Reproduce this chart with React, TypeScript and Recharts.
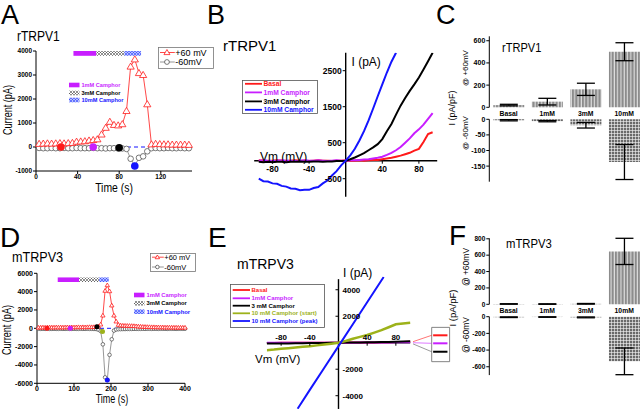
import React from 'react';
import {
  ComposedChart, LineChart, BarChart, Line, Bar, Scatter, Cell, XAxis, YAxis,
  ReferenceLine, ReferenceArea, ReferenceDot, ErrorBar,
} from 'recharts';

const FONT = '"Liberation Sans", Arial, Helvetica, sans-serif';

const RED = '#ff1a1a';
const MAGENTA = '#c81eff';
const BLUE = '#1414ff';
const OLIVE = '#9db21a';
const GREY = '#7c7c7c';

// ---------- A: rTRPV1 current vs time ----------
const timeA = [3, 7, 11, 15, 19, 23, 27, 31, 35, 39, 43, 47, 51, 55, 59, 63, 67, 71, 75, 79, 83, 87, 91, 95, 99, 103, 107, 111, 115, 119, 123, 127, 131, 135, 139, 143, 147];
const posA = [130, 140, 150, 140, 150, 160, 150, 160, 170, 220, 230, 240, 270, 290, 320, 520, 800, 1050, 920, 900, 950, 1500, 3350, 3650, 3080, 3000, 1780, 110, 130, 120, 110, 110, 100, 100, 100, 100, 90];
const negA = [-40, -50, -50, -40, -50, -50, -40, -50, -50, -40, -50, -50, -50, -40, -50, -50, -60, -50, -50, -60, -60, -80, -490, -790, -450, -390, -180, -50, -40, -50, -50, -40, -50, -50, -40, -50, -50];
const markTimeA = [24, 55, 80, 95];
const markCurA = [0, 0, -30, -790];
const drugFromA = [36, 58, 85];
const drugToA = [58, 85, 101];

// ---------- D: mTRPV3 current vs time ----------
const timeD = [4, 10, 16, 22, 28, 34, 40, 46, 52, 58, 64, 70, 76, 82, 88, 94, 100, 106, 112, 118, 124, 130, 136, 142, 148, 154, 160, 166, 172, 178, 184, 190, 196, 202, 208, 214, 220, 226, 232, 238, 244, 250, 256, 262, 268, 274, 280, 286, 292, 298, 304, 310, 316, 322, 328, 334, 340, 346, 352, 358, 364, 370, 376, 382, 388, 394, 400];
const posD = [80, 90, 100, 90, 100, 110, 100, 100, 110, 100, 110, 100, 110, 120, 110, 120, 110, 120, 130, 120, 130, 120, 130, 140, 130, 140, 150, 200, 420, 1400, 4100, 4700, 4050, 2500, 1400, 750, 380, 320, 300, 290, 280, 270, 260, 250, 230, 210, 190, 170, 160, 150, 140, 130, 130, 120, 120, 110, 110, 100, 100, 100, 90, 90, 90, 80, 80, 80, 80];
const negD = [-50, -60, -50, -60, -50, -60, -60, -50, -60, -60, -50, -60, -60, -50, -60, -60, -50, -60, -60, -50, -60, -60, -50, -60, -60, -70, -80, -150, -300, -1750, -5350, -5650, -2900, -1200, -250, -130, -100, -90, -80, -80, -70, -70, -70, -60, -60, -60, -60, -50, -60, -50, -50, -60, -50, -50, -60, -50, -50, -50, -60, -50, -50, -50, -60, -50, -50, -50, -50];
const markTimeD = [27, 90, 162, 177, 190];
const markCurD = [0, 0, 180, -350, -5650];
const drugFromD = [56, 114, 168];
const drugToD = [114, 168, 194];

// ---------- B: rTRPV1 I-V ----------
const vB = [-95, -90, -85, -80, -75, -70, -65, -60, -55, -50, -45, -40, -35, -30, -25, -20, -15, -10, -5, 0, 5, 10, 15, 20, 25, 30, 35, 40, 45, 50, 55, 60, 65, 70, 75, 80, 85, 90, 95];
const basalB = [10, 0, -10, 0, 10, 0, -10, 0, 10, 0, 0, -10, 0, 10, 0, 0, -10, 0, 0, 10, 0, 0, 10, 0, 10, 20, 20, 40, 60, 80, 110, 140, 180, 220, 280, 330, 520, 740, 790];
const camphor1B = [0, 10, 0, -10, 0, 10, 0, 0, -10, 0, 10, 0, 0, 10, 0, -10, 0, 10, 0, 0, 10, 10, 20, 30, 40, 60, 80, 110, 160, 220, 290, 380, 500, 620, 760, 870, 1000, 1160, 1320];
const camphor3B = [-30, -40, -30, -40, -30, -30, -40, -30, -30, -20, -30, -30, -20, -20, -30, -20, -20, -10, -10, 0, 40, 90, 150, 210, 290, 370, 460, 600, 820, 1020, 1280, 1530, 1740, 1940, 2120, 2310, 2530, 2760, 3000];
const vB10 = [-95, -90, -85, -80, -75, -70, -65, -60, -55, -50, -45, -40, -35, -30, -25, -20, -15, -10, -5, 0, 5, 10, 15, 20, 25, 30, 35, 40, 45, 50, 55];
const camphor10B = [-500, -570, -580, -630, -640, -700, -720, -770, -780, -820, -810, -810, -760, -730, -630, -550, -410, -290, -130, 0, 150, 330, 560, 820, 1120, 1450, 1790, 2120, 2450, 2750, 3000];

// ---------- E: mTRPV3 I-V ----------
const vE = [-100, -90, -80, -70, -60, -50, -40, -30, -20, -10, 0, 10, 20, 30, 40, 50, 60, 70, 80, 90, 100];
const basalE = [-20, -20, -10, -10, -10, -10, 0, 0, 0, 0, 0, 0, 10, 10, 20, 20, 30, 40, 50, 60, 70];
const camphor1E = [-10, -10, -10, 0, 0, 0, 0, 0, 0, 0, 0, 0, 0, 10, 10, 10, 20, 20, 30, 30, 40];
const camphor3E = [-60, -60, -50, -50, -40, -40, -30, -30, -20, -10, 0, 10, 10, 20, 30, 40, 50, 60, 80, 90, 110];
const startE = [-560, -520, -460, -410, -360, -310, -260, -200, -140, -70, 0, 130, 300, 440, 580, 760, 950, 1170, 1390, 1460, 1510];
const vPeakE = [-57, -40, -20, 0, 20, 40, 63];
const peakE = [-4980, -3560, -1910, -260, 1390, 3050, 4960];

// ---------- C / F: current density bars ----------
const groups = ['Basal', '1mM', '3mM', '10mM'];
const cPosMean = [20, 51, 162, 501];
const cPosErr = [7, 30, 55, 81];
const cNegMean = [-3, -6, -19, -137];
const cNegErr = [2, 2, 9, 56];
const fPosMean = [4, 3, 6, 646];
const fPosErr = [3, 3, 4, 160];
const fNegMean = [-6, -4, -8, -535];
const fNegErr = [4, 3, 5, 160];

const asRows = (t: number[], a: number[], b: number[]) => t.map((x, i) => ({ t: x, pos: a[i], neg: b[i] }));
const asPts = (v: number[], c: number[]) => v.map((x, i) => ({ v: x, i: c[i] }));
const asMarks = (t: number[], c: number[]) => t.map((x, i) => ({ t: x, v: c[i] }));
const asBars = (m: number[], e: number[]) => groups.map((g, i) => ({ name: g, mean: m[i], err: e[i] }));

const DRUG_FILLS = [MAGENTA, 'url(#pat-cross)', 'url(#pat-crossblue)'];

// absolutely placed text; (x, y) is the left-middle point, or the centre when rotated / anchor="middle"
const Txt = ({ x, y, size, children, anchor = 'start', color = '#000', bold = false, rotate = false, sx = 1 }: any) => {
  const tx = anchor === 'start' ? '0' : '-50%';
  const origin = rotate || anchor !== 'start' ? 'center center' : 'left center';
  const transform = rotate
    ? `translate(-50%,-50%) rotate(-90deg) scaleX(${sx})`
    : `translate(${tx},-50%) scaleX(${sx})`;
  return (
    <div style={{
      position: 'absolute', left: x, top: y, fontSize: size, lineHeight: 0.8, whiteSpace: 'nowrap',
      color, fontWeight: bold ? 'bold' : 'normal', transform, transformOrigin: origin,
    }}>{children}</div>
  );
};

const triangle = (r: number, color: string) => (p: any) => (
  <path key={`tri-${p.index}`}
    d={`M${p.cx},${p.cy - r}L${p.cx + r},${p.cy + r * 0.7}L${p.cx - r},${p.cy + r * 0.7}Z`}
    fill="#fff" stroke={color} strokeWidth={0.8} />
);
const ring = (r: number, color: string) => (p: any) => (
  <circle key={`ring-${p.index}`} cx={p.cx} cy={p.cy} r={r} fill="#fff" stroke={color} strokeWidth={0.8} />
);

// tick drawn at a data point: vertical tick with label under / over the axis
const xTick = (label: string, dy: number, size: number) => (p: any) => (
  <g>
    <line x1={p.cx} y1={p.cy} x2={p.cx} y2={p.cy + 3} stroke="#000" strokeWidth={1} />
    <text x={p.cx} y={p.cy + dy} textAnchor="middle" fontSize={size} fontWeight="bold">{label}</text>
  </g>
);
const yTick = (label: string, right: boolean, size: number) => (p: any) => (
  <g>
    <line x1={p.cx - 3} y1={p.cy} x2={p.cx} y2={p.cy} stroke="#000" strokeWidth={1} />
    <text x={right ? p.cx + 4 : p.cx - 4} y={p.cy + size * 0.36} textAnchor={right ? 'start' : 'end'}
      fontSize={size} fontWeight="bold">{label}</text>
  </g>
);

const TimeCourse = (props: any) => {
  const { left, top, width, height, margin, rows, marks, markColors, markR, drugFrom, drugTo, band,
    xDomain, xTicks, yDomain, yTicks, tickFont, triR, ringR } = props;
  const tick = { fontSize: tickFont, fontWeight: 'bold', fill: '#000' };
  return (
    <div style={{ position: 'absolute', left, top }}>
      <ComposedChart width={width} height={height} data={rows} margin={margin}>
        <XAxis type="number" dataKey="t" domain={xDomain} ticks={xTicks} interval={0} height={25}
          tick={tick} tickSize={3} tickMargin={0} stroke="#000" />
        <YAxis type="number" domain={yDomain} ticks={yTicks} interval={0} width={34}
          tick={tick} tickSize={3} tickMargin={1} stroke="#000" />
        {drugFrom.map((s: number, i: number) => (
          <ReferenceArea key={`drug-${i}`} x1={s} x2={drugTo[i]} y1={band[0]} y2={band[1]}
            fill={DRUG_FILLS[i]} fillOpacity={1} stroke="none" />
        ))}
        <ReferenceLine y={0} stroke={BLUE} strokeDasharray="4 3" strokeWidth={1} />
        <Line dataKey="neg" stroke={GREY} strokeWidth={0.8} dot={ring(ringR, '#555')} isAnimationActive={false} />
        <Line dataKey="pos" stroke={RED} strokeWidth={0.8} dot={triangle(triR, RED)} isAnimationActive={false} />
        <Scatter data={marks} dataKey="v" isAnimationActive={false}
          shape={(p: any) => <circle cx={p.cx} cy={p.cy} r={markR} fill={p.fill} />}>
          {marks.map((_: any, i: number) => <Cell key={`m-${i}`} fill={markColors[i]} />)}
        </Scatter>
      </ComposedChart>
    </div>
  );
};

const DensityBars = (props: any) => {
  const { top, posRows, negRows, posDomain, posTicks, negDomain, negTicks, posMargin, negMargin,
    posHeight, negHeight, negTop, tickFont } = props;
  const tick = { fontSize: tickFont, fontWeight: 'bold', fill: '#000' };
  return (
    <>
      <div style={{ position: 'absolute', left: 440, top }}>
        <BarChart width={210} height={posHeight} data={posRows} margin={posMargin}>
          <XAxis dataKey="name" axisLine={false} tickLine={false} tickSize={0} tickMargin={4} height={10}
            interval={0} tick={{ fontSize: 6.8, fontWeight: 'bold', fill: '#000' }} />
          <YAxis type="number" domain={posDomain} ticks={posTicks} interval={0} width={22}
            tick={tick} tickSize={3} tickMargin={1} stroke="#000" />
          <Bar dataKey="mean" barSize={31} fill="url(#pat-vstripe)" isAnimationActive={false}>
            <ErrorBar dataKey="err" width={9} stroke="#000" strokeWidth={1.3} />
          </Bar>
        </BarChart>
      </div>
      <div style={{ position: 'absolute', left: 440, top: negTop }}>
        <BarChart width={210} height={negHeight} data={negRows} margin={negMargin}>
          <XAxis dataKey="name" hide />
          <YAxis type="number" domain={negDomain} ticks={negTicks} interval={0} width={22}
            tick={tick} tickSize={3} tickMargin={1} stroke="#000" />
          <Bar dataKey="mean" barSize={31} fill="url(#pat-grid)" isAnimationActive={false}>
            <ErrorBar dataKey="err" width={9} stroke="#000" strokeWidth={1.3} />
          </Bar>
        </BarChart>
      </div>
    </>
  );
};

const Patterns = () => (
  <svg width={0} height={0} style={{ position: 'absolute' }}>
    <defs>
      <pattern id="pat-cross" width={3} height={3} patternUnits="userSpaceOnUse">
        <rect width={3} height={3} fill="#fff" />
        <path d="M0,0L3,3M3,0L0,3" stroke="#444" strokeWidth={0.6} />
      </pattern>
      <pattern id="pat-crossblue" width={3} height={3} patternUnits="userSpaceOnUse">
        <rect width={3} height={3} fill="#b9c3ff" />
        <path d="M0,0L3,3M3,0L0,3" stroke="#2a3cff" strokeWidth={0.6} />
      </pattern>
      <pattern id="pat-vstripe" width={3.3} height={4} patternUnits="userSpaceOnUse">
        <rect width={3.3} height={4} fill="#8c8c8c" />
        <rect x={2.2} width={1} height={4} fill="#e8e8e8" />
      </pattern>
      <pattern id="pat-grid" width={3} height={3} patternUnits="userSpaceOnUse">
        <rect width={3} height={3} fill="#6a6a6a" />
        <path d="M0,0.4H3M0.4,0V3" stroke="#f2f2f2" strokeWidth={0.7} />
      </pattern>
    </defs>
  </svg>
);

const DrugLegend = ({ left, top, rows, font }: any) => (
  <svg width={60} height={28} style={{ position: 'absolute', left, top }}>
    {['1mM Camphor', '3mM Camphor', '10mM Camphor'].map((s, i) => (
      <g key={s}>
        <rect x={1} y={rows[i] - 2.3} width={10.5} height={4.6} fill={DRUG_FILLS[i]} />
        <text x={13.5} y={rows[i] + 2} fontSize={font} fontWeight="bold"
          fill={[MAGENTA, '#000', BLUE][i]}>{s}</text>
      </g>
    ))}
  </svg>
);

const VoltLegend = ({ left, top, w, h, rows, font, triR, ringR }: any) => (
  <svg width={w} height={h} style={{ position: 'absolute', left, top }}>
    <rect x={0.5} y={0.5} width={w - 1} height={h - 1} fill="#fff" stroke="#777" strokeWidth={0.8} />
    <line x1={2} y1={rows[0]} x2={w * 0.3} y2={rows[0]} stroke={RED} strokeWidth={0.8} />
    {triangle(triR, RED)({ cx: w * 0.16, cy: rows[0], index: 0 })}
    <text x={w * 0.31} y={rows[0] + font * 0.36} fontSize={font}>+60 mV</text>
    <line x1={2} y1={rows[1]} x2={w * 0.3} y2={rows[1]} stroke={GREY} strokeWidth={0.8} />
    {ring(ringR, '#555')({ cx: w * 0.16, cy: rows[1], index: 1 })}
    <text x={w * 0.31} y={rows[1] + font * 0.36} fontSize={font}>-60mV</text>
  </svg>
);

const LineLegend = ({ left, top, w, h, rows, items, colors, font, x1, x2 }: any) => (
  <svg width={w} height={h} style={{ position: 'absolute', left, top }}>
    <rect x={0.5} y={0.5} width={w - 1} height={h - 1} fill="#fff" stroke="#555" strokeWidth={0.8} />
    {items.map((s: string, i: number) => (
      <g key={s}>
        <line x1={x1} y1={rows[i]} x2={x2} y2={rows[i]} stroke={colors[i]} strokeWidth={1.8} />
        <text x={x2 + 1.5} y={rows[i] + font * 0.36} fontSize={font} fontWeight="bold" fill={colors[i]}>{s}</text>
      </g>
    ))}
  </svg>
);

export default function App() {
  const rowsA = asRows(timeA, posA, negA);
  const rowsD = asRows(timeD, posD, negD);
  return (
    <div style={{
      position: 'absolute', left: 0, top: 0, width: 640, height: 411, overflow: 'hidden',
      background: '#fff', fontFamily: FONT,
    }}>
      <Patterns />

      {/* A */}
      <TimeCourse left={0} top={0} width={215} height={200}
        margin={{ top: 51, right: 23, bottom: 4, left: 2 }}
        rows={rowsA} marks={asMarks(markTimeA, markCurA)} markColors={[RED, MAGENTA, '#000', BLUE]} markR={3.8}
        drugFrom={drugFromA} drugTo={drugToA} band={[3800, 4000]}
        xDomain={[0, 150]} xTicks={[0, 40, 80, 120]} yDomain={[-1000, 4000]}
        yTicks={[-1000, 0, 1000, 2000, 3000, 4000]} tickFont={6.5} triR={3.6} ringR={2.8} />
      <DrugLegend left={68} top={80} rows={[5, 13, 20]} font={5.6} />
      <VoltLegend left={158} top={47} w={56} h={22} rows={[5.5, 15]} font={9} triR={3} ringR={2.4} />

      {/* D */}
      <TimeCourse left={0} top={205} width={215} height={206}
        margin={{ top: 68.3, right: 30, bottom: 2.7, left: 3 }}
        rows={rowsD} marks={asMarks(markTimeD, markCurD)} markColors={[RED, MAGENTA, '#000', OLIVE, BLUE]} markR={2.5}
        drugFrom={drugFromD} drugTo={drugToD} band={[5050, 5550]}
        xDomain={[0, 400]} xTicks={[0, 100, 200, 300, 400]} yDomain={[-6000, 6000]}
        yTicks={[-6000, -4000, -2000, 0, 2000, 4000, 6000]} tickFont={7} triR={2.2} ringR={1.8} />
      <DrugLegend left={133} top={290} rows={[5, 13.3, 21.7]} font={5.8} />
      <VoltLegend left={150} top={253} w={46} h={19} rows={[4.2, 14]} font={7.5} triR={2.2} ringR={1.8} />

      {/* B */}
      <div style={{ position: 'absolute', left: 210, top: 0 }}>
        <LineChart width={230} height={205} margin={{ top: 52.7, right: 2.8, bottom: 8.3, left: 44.2 }}>
          <XAxis type="number" dataKey="v" domain={[-100, 100]} hide allowDataOverflow />
          <YAxis type="number" domain={[-1000, 3000]} hide allowDataOverflow />
          <ReferenceLine segment={[{ x: -100, y: 0 }, { x: 100, y: 0 }]} stroke="#000" strokeWidth={1.4} />
          <ReferenceLine segment={[{ x: 0, y: -1000 }, { x: 0, y: 3000 }]} stroke="#000" strokeWidth={1.4} />
          {[-80, -40, 40, 80].map((v) => (
            <ReferenceDot key={`bx${v}`} x={v} y={0} r={1} shape={xTick(String(v), 11, 8.5)} />
          ))}
          {[-500, 500, 1500, 2500].map((v) => (
            <ReferenceDot key={`by${v}`} x={0} y={v} r={1} shape={yTick(String(v), false, 8.5)} />
          ))}
          <Line data={asPts(vB, basalB)} dataKey="i" stroke={RED} strokeWidth={2} dot={false} isAnimationActive={false} />
          <Line data={asPts(vB, camphor1B)} dataKey="i" stroke={MAGENTA} strokeWidth={2} dot={false} isAnimationActive={false} />
          <Line data={asPts(vB, camphor3B)} dataKey="i" stroke="#000" strokeWidth={2} dot={false} isAnimationActive={false} />
          <Line data={asPts(vB10, camphor10B)} dataKey="i" stroke={BLUE} strokeWidth={2} dot={false} isAnimationActive={false} />
        </LineChart>
      </div>
      <LineLegend left={242} top={80} w={76} h={34} rows={[3.8, 12.4, 21.4, 29.8]}
        items={['Basal', '1mM Camphor', '3mM Camphor', '10mM Camphor']}
        colors={[RED, MAGENTA, '#000', BLUE]} font={6.7} x1={3} x2={20} />

      {/* E */}
      <div style={{ position: 'absolute', left: 210, top: 205 }}>
        <LineChart width={250} height={206} margin={{ top: 71.5, right: 6.8, bottom: 2.05, left: 56.8 }}>
          <XAxis type="number" dataKey="v" domain={[-100, 160]} hide allowDataOverflow />
          <YAxis type="number" domain={[-5000, 5000]} hide allowDataOverflow />
          <ReferenceLine segment={[{ x: -100, y: 0 }, { x: 100, y: 0 }]} stroke="#000" strokeWidth={1.4} />
          <ReferenceLine segment={[{ x: 0, y: -5000 }, { x: 0, y: 4800 }]} stroke="#000" strokeWidth={1.4} />
          {[-80, -40, 40, 80].map((v) => (
            <ReferenceDot key={`ex${v}`} x={v} y={0} r={1} shape={xTick(String(v), -3, 8)} />
          ))}
          {[-4000, -2000, 2000, 4000].map((v) => (
            <ReferenceDot key={`ey${v}`} x={0} y={v} r={1} shape={yTick(String(v), true, 8)} />
          ))}
          {/* zoom-in box for the end of the basal/1mM/3mM traces */}
          <ReferenceLine segment={[{ x: 104, y: 80 }, { x: 130, y: 560 }]} stroke={RED} strokeWidth={0.6} />
          <ReferenceLine segment={[{ x: 104, y: 0 }, { x: 130, y: -45 }]} stroke={MAGENTA} strokeWidth={0.6} />
          <ReferenceLine segment={[{ x: 104, y: -90 }, { x: 130, y: -680 }]} stroke="#555" strokeWidth={0.6} />
          <ReferenceArea x1={130} x2={155} y1={-1430} y2={1160} fill="#fff" fillOpacity={1} stroke="#666" strokeWidth={0.8} />
          <ReferenceLine segment={[{ x: 132, y: 560 }, { x: 152, y: 560 }]} stroke={RED} strokeWidth={2} />
          <ReferenceLine segment={[{ x: 132, y: -45 }, { x: 152, y: -45 }]} stroke={MAGENTA} strokeWidth={2} />
          <ReferenceLine segment={[{ x: 132, y: -680 }, { x: 152, y: -680 }]} stroke="#000" strokeWidth={2} />
          <Line data={asPts(vE, basalE)} dataKey="i" stroke={RED} strokeWidth={2} dot={false} isAnimationActive={false} />
          <Line data={asPts(vE, camphor1E)} dataKey="i" stroke={MAGENTA} strokeWidth={2} dot={false} isAnimationActive={false} />
          <Line data={asPts(vE, camphor3E)} dataKey="i" stroke="#000" strokeWidth={2} dot={false} isAnimationActive={false} />
          <Line data={asPts(vE, startE)} dataKey="i" stroke={OLIVE} strokeWidth={2.5} dot={false} isAnimationActive={false} />
          <Line data={asPts(vPeakE, peakE)} dataKey="i" stroke={BLUE} strokeWidth={2} dot={false} isAnimationActive={false} />
        </LineChart>
      </div>
      <LineLegend left={230} top={284} w={95} h={44} rows={[6, 14.3, 21.7, 29.3, 37]}
        items={['Basal', '1mM Camphor', '3 mM Camphor', '10 mM Camphor (start)', '10 mM Camphor (peak)']}
        colors={[RED, MAGENTA, '#000', OLIVE, BLUE]} font={6} x1={2.7} x2={20} />

      {/* C */}
      <DensityBars top={0} negTop={112} posHeight={120} negHeight={75}
        posRows={asBars(cPosMean, cPosErr)} negRows={asBars(cNegMean, cNegErr)}
        posDomain={[0, 640]} posTicks={[0, 200, 400, 600]} negDomain={[-200, 0]} negTicks={[-150, -100, -50, 0]}
        posMargin={{ top: 36.3, right: 6.5, bottom: 2.7, left: 27.3 }}
        negMargin={{ top: 7.3, right: 6.5, bottom: 5.3, left: 27.3 }} tickFont={7} />

      {/* F */}
      <DensityBars top={205} negTop={310} posHeight={115} negHeight={70}
        posRows={asBars(fPosMean, fPosErr)} negRows={asBars(fNegMean, fNegErr)}
        posDomain={[0, 800]} posTicks={[0, 200, 400, 600, 800]} negDomain={[-700, 0]} negTicks={[-600, -400, -200, 0]}
        posMargin={{ top: 33.3, right: 6.5, bottom: 5.7, left: 27.3 }}
        negMargin={{ top: 6.7, right: 6.5, bottom: 4.9, left: 27.3 }} tickFont={6.5} />

      {/* panel letters and titles */}
      <Txt x={1} y={15.5} size={27}>A</Txt>
      <Txt x={207} y={15.5} size={27}>B</Txt>
      <Txt x={436} y={15.5} size={27}>C</Txt>
      <Txt x={0} y={238} size={28}>D</Txt>
      <Txt x={208} y={238} size={28}>E</Txt>
      <Txt x={449} y={236} size={28}>F</Txt>

      <Txt x={17} y={37} size={14} sx={0.86}>rTRPV1</Txt>
      <Txt x={223} y={46} size={15}>rTRPV1</Txt>
      <Txt x={502} y={47.5} size={13} sx={0.85}>rTRPV1</Txt>
      <Txt x={12} y={257.5} size={14} sx={0.9}>mTRPV3</Txt>
      <Txt x={237} y={265} size={14}>mTRPV3</Txt>
      <Txt x={506} y={244} size={13} sx={0.87}>mTRPV3</Txt>

      <Txt x={8} y={110} size={13} rotate sx={0.7}>Current (pA)</Txt>
      <Txt x={114} y={187.5} size={13} anchor="middle" sx={0.8}>Time (s)</Txt>
      <Txt x={7} y={330} size={13} rotate sx={0.7}>Current (pA)</Txt>
      <Txt x={112} y={400} size={12} anchor="middle" sx={0.75}>Time (s)</Txt>

      <Txt x={260} y={157.5} size={12}>Vm (mV)</Txt>
      <Txt x={351.5} y={63} size={12}>I (pA)</Txt>
      <Txt x={255} y={360} size={11.5}>Vm (mV)</Txt>
      <Txt x={343} y={274} size={12}>I (pA)</Txt>

      <Txt x={466} y={68.3} size={8} rotate>@ +60mV</Txt>
      <Txt x={453.3} y={108.3} size={9} rotate>I (pA/pF)</Txt>
      <Txt x={466} y={132.5} size={8} rotate>@ -60mV</Txt>
      <Txt x={466.3} y={266.7} size={8.5} rotate>@ +60mV</Txt>
      <Txt x={453.3} y={308.3} size={9.5} rotate>I (pA/pF)</Txt>
      <Txt x={466.3} y={335} size={8.5} rotate>@ -60mV</Txt>
    </div>
  );
}
